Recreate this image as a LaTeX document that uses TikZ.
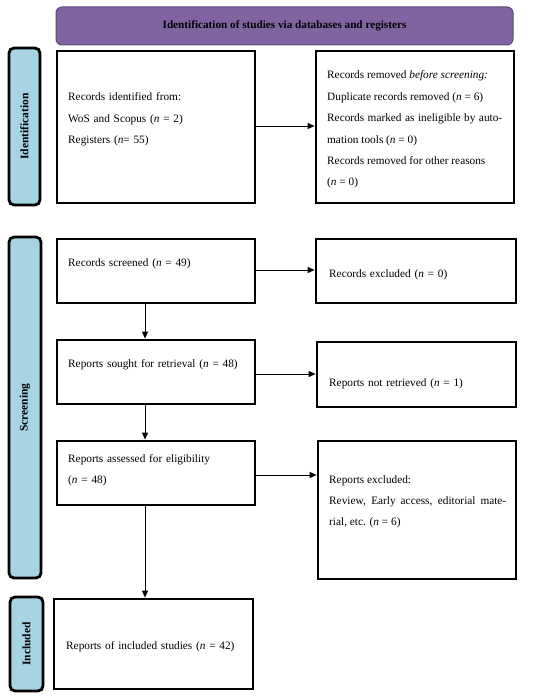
\documentclass[tikz,border=0pt]{standalone}
\usepackage{fontspec}
\setmainfont{Liberation Serif}
\usetikzlibrary{arrows.meta}
\definecolor{hdrpurple}{HTML}{8064A2}
\definecolor{hdrborder}{HTML}{5C4776}
\definecolor{sideblue}{HTML}{A6D4E2}
\begin{document}
\begin{tikzpicture}[x=1pt,y=-1pt,
  box/.style={draw=black,line width=2.8pt,fill=white},
  side/.style={draw=black,line width=2.8pt,fill=sideblue,rounded corners=5pt},
  sidelabel/.style={rotate=90,font=\fontsize{11.5}{13}\selectfont\bfseries,inner sep=0pt},
  txt/.style={anchor=base west,inner sep=0pt,text width=180pt,align=left,font=\fontsize{11.3}{21.4}\selectfont},
  arr/.style={line width=0.9pt,-{Triangle[length=7pt,width=6pt]}}]
\useasboundingbox (0,0) rectangle (550,698);
% header
\draw[fill=hdrpurple,draw=hdrborder,line width=1pt,rounded corners=6pt] (56,7) rectangle (513,45);
\node[inner sep=0pt,font=\fontsize{11.2}{13}\selectfont\bfseries] (hdr) at (284.5,26) {Identification of studies via databases and registers};
% side bars
\draw[side] (9,48) rectangle (40,205);
\node[sidelabel] (sid) at (24.5,126.5) {Identification};
\draw[side] (9,237) rectangle (41,578);
\node[sidelabel] (sscr) at (25,407.5) {Screening};
\draw[side] (10,597) rectangle (43,691);
\node[sidelabel] (sinc) at (26.5,644) {Included};
% boxes
\node[box,minimum width=198pt,minimum height=152pt,inner sep=0pt] (rid) at (156,127) {};
\node[box,minimum width=198pt,minimum height=152pt,inner sep=0pt] (rrem) at (415,127) {};
\node[box,minimum width=198pt,minimum height=64pt,inner sep=0pt] (rscr) at (156,271) {};
\node[box,minimum width=200pt,minimum height=64pt,inner sep=0pt] (rexc) at (416,271) {};
\node[box,minimum width=198pt,minimum height=64pt,inner sep=0pt] (rsou) at (156,372) {};
\node[box,minimum width=199pt,minimum height=65pt,inner sep=0pt] (rnot) at (416.5,374.5) {};
\node[box,minimum width=198pt,minimum height=64pt,inner sep=0pt] (rass) at (156,473) {};
\node[box,minimum width=198pt,minimum height=138pt,inner sep=0pt] (rrex) at (417,510) {};
\node[box,minimum width=199pt,minimum height=90pt,inner sep=0pt] (rinc) at (153.5,644) {};
% texts
\node[txt] (t1) at (68,101) {Records identified from:\\WoS and Scopus (\textit{n} = 2)\\Registers (\textit{n}= 55)};
\node[txt,text width=175pt,align=justify] (t2) at (327,79) {Records removed \textit{before screening:}\\Duplicate records removed (\textit{n} = 6)\\Records marked as ineligible by auto-\linebreak mation tools (\textit{n} = 0)\\Records removed for other reasons\\(\textit{n} = 0)};
\node[txt] (t3) at (68,266) {Records screened (\textit{n} = 49)};
\node[txt] (t4) at (329,277) {Records excluded (\textit{n} = 0)};
\node[txt] (t5) at (68,367) {Reports sought for retrieval (\textit{n} = 48)};
\node[txt] (t6) at (329,386) {Reports not retrieved (\textit{n} = 1)};
\node[txt] (t7) at (68,462) {Reports assessed for eligibility\\(\textit{n} = 48)};
\node[txt,text width=177pt,align=justify] (t8) at (329,483) {Reports excluded:\\Review, Early access, editorial mate-\linebreak rial, etc. (\textit{n} = 6)};
\node[txt] (t9) at (66,649) {Reports of included studies (\textit{n} = 42)};
% arrows
\draw[arr] (rid.east |- 0,126) -- (rrem.west |- 0,126);
\draw[arr] (rscr.east |- 0,270) -- (rexc.west |- 0,270);
\draw[arr] (rsou.east |- 0,374) -- (rnot.west |- 0,374);
\draw[arr] (rass.east |- 0,475) -- (rrex.west |- 0,475);
\draw[arr] (rscr.south -| 145,0) -- (rsou.north -| 145,0);
\draw[arr] (rsou.south -| 145,0) -- (rass.north -| 145,0);
\draw[arr] (rass.south -| 145,0) -- (rinc.north -| 145,0);
\end{tikzpicture}
\end{document}
